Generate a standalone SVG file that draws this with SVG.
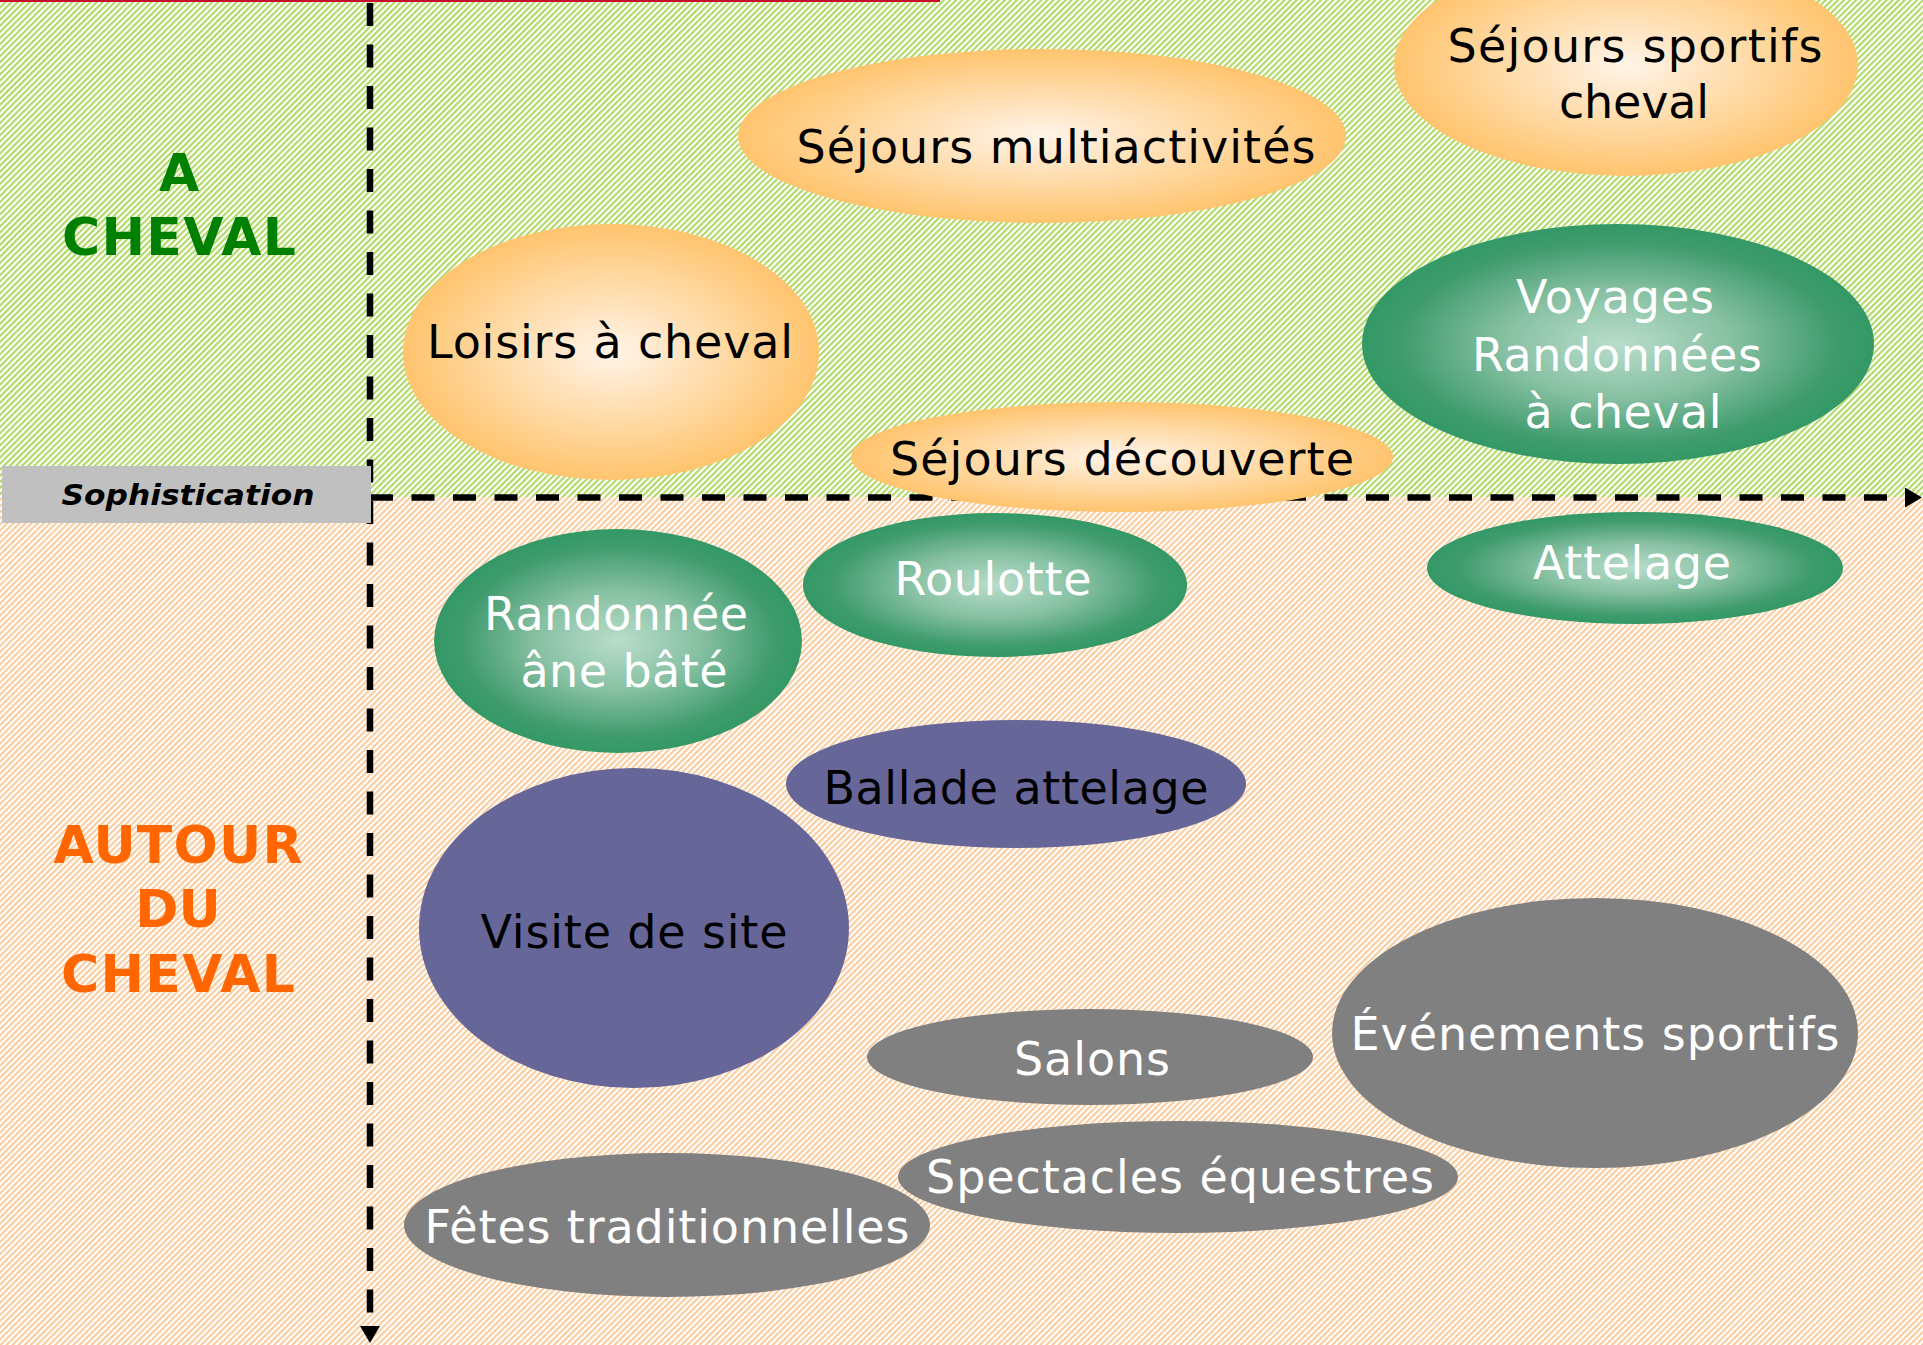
<svg xmlns="http://www.w3.org/2000/svg" width="1923" height="1345" viewBox="0 0 1923 1345">
<defs>
<pattern id="hatchG" width="4.3" height="4.3" patternUnits="userSpaceOnUse" patternTransform="rotate(45)">
<rect width="4.3" height="4.3" fill="#ffffff"/>
<rect width="2.1" height="4.3" fill="#afd964"/>
</pattern>
<pattern id="hatchO" width="4.3" height="4.3" patternUnits="userSpaceOnUse" patternTransform="rotate(45)">
<rect width="4.3" height="4.3" fill="#ffffff"/>
<rect width="2.1" height="4.3" fill="#fbcb9c"/>
</pattern>
<radialGradient id="gOr" cx="50%" cy="50%" r="50%">
<stop offset="0" stop-color="#fff4e9"/>
<stop offset="0.5" stop-color="#ffdcab"/>
<stop offset="1" stop-color="#ffc46e"/>
</radialGradient>
<radialGradient id="gGr" cx="50%" cy="50%" r="50%">
<stop offset="0" stop-color="#b9ddcb"/>
<stop offset="0.45" stop-color="#86c0a2"/>
<stop offset="0.85" stop-color="#3f9b6d"/>
<stop offset="1" stop-color="#339966"/>
</radialGradient>
<marker id="arr" markerWidth="18" markerHeight="20" refX="0" refY="10" orient="auto" markerUnits="userSpaceOnUse">
<path d="M0,0 L17,10 L0,20 z" fill="#000"/>
</marker>
<style>
.t{font-family:"DejaVu Sans","Liberation Sans",Verdana,sans-serif;font-size:46px;text-anchor:middle;}
.dk{fill:#000;}
.wh{fill:#fff;}
.ax{stroke:#000;stroke-width:6.5;stroke-dasharray:23 18.5;fill:none;}
.or{fill:url(#gOr);}
.gr{fill:url(#gGr);}
.pu{fill:#666699;}
.gy{fill:#808080;}
.big{font-family:"DejaVu Sans","Liberation Sans",Verdana,sans-serif;font-size:52px;font-weight:bold;text-anchor:middle;}
</style>
</defs>

<g id="background">
<rect x="0" y="0" width="1923" height="497" fill="url(#hatchG)"/>
<rect x="0" y="497" width="1923" height="848" fill="url(#hatchO)"/>
<rect x="0" y="0" width="940" height="2" fill="#c8102e"/>
</g>

<g id="labels">
<text class="big" x="179" y="191" fill="#008000">A</text>
<text class="big" x="179" y="255" fill="#008000" textLength="234">CHEVAL</text>
<text class="big" x="178" y="863" fill="#ff6600" textLength="249">AUTOUR</text>
<text class="big" x="178" y="927" fill="#ff6600">DU</text>
<text class="big" x="178" y="992" fill="#ff6600" textLength="234">CHEVAL</text>
</g>

<g id="connectors">
<line class="ax" x1="370" y1="3" x2="370" y2="1326" marker-end="url(#arr)"/>
<line class="ax" x1="370" y1="497.5" x2="1905" y2="497.5" marker-end="url(#arr)"/>
</g>

<g id="axis-label">
<rect x="2" y="466" width="369" height="57" fill="#c0c0c0"/>
<text x="188" y="505" font-family="'DejaVu Sans','Liberation Sans',Verdana,sans-serif" font-size="29" font-weight="bold" font-style="italic" text-anchor="middle" textLength="253" lengthAdjust="spacingAndGlyphs">Sophistication</text>
</g>

<g id="sejours-multiactivites">
<ellipse class="or" cx="1042" cy="136" rx="304" ry="87"/>
<text class="t dk" x="1056" y="163" textLength="519">Séjours multiactivités</text>
</g>
<g id="sejours-sportifs">
<ellipse class="or" cx="1626" cy="65" rx="232" ry="111"/>
<text class="t dk" x="1635" y="62" textLength="375">Séjours sportifs</text>
<text class="t dk" x="1634" y="118" textLength="150">cheval</text>
</g>
<g id="loisirs">
<ellipse class="or" cx="611" cy="352" rx="208" ry="128"/>
<text class="t dk" x="610" y="358" textLength="366">Loisirs à cheval</text>
</g>
<g id="voyages">
<ellipse class="gr" cx="1618" cy="344" rx="256" ry="120"/>
<text class="t wh" x="1615" y="313" textLength="198">Voyages</text>
<text class="t wh" x="1617" y="371" textLength="290">Randonnées</text>
<text class="t wh" x="1623" y="428" textLength="197">à cheval</text>
</g>
<g id="sejours-decouverte">
<ellipse class="or" cx="1122" cy="457" rx="271" ry="55"/>
<text class="t dk" x="1122" y="475" textLength="464">Séjours découverte</text>
</g>
<g id="randonnee-ane">
<ellipse class="gr" cx="618" cy="641" rx="184" ry="112"/>
<text class="t wh" x="616" y="630" textLength="264">Randonnée</text>
<text class="t wh" x="624" y="687" textLength="207">âne bâté</text>
</g>
<g id="roulotte">
<ellipse class="gr" cx="995" cy="585" rx="192" ry="72"/>
<text class="t wh" x="993" y="595" textLength="197">Roulotte</text>
</g>
<g id="attelage">
<ellipse class="gr" cx="1635" cy="568" rx="208" ry="56"/>
<text class="t wh" x="1632" y="579" textLength="198">Attelage</text>
</g>
<g id="ballade-attelage">
<ellipse class="pu" cx="1016" cy="784" rx="230" ry="64"/>
<text class="t dk" x="1016" y="804" textLength="385">Ballade attelage</text>
</g>
<g id="visite-de-site">
<ellipse class="pu" cx="634" cy="928" rx="215" ry="160"/>
<text class="t dk" x="634" y="948" textLength="307">Visite de site</text>
</g>
<g id="salons">
<ellipse class="gy" cx="1090" cy="1057" rx="223" ry="48"/>
<text class="t wh" x="1092" y="1075" textLength="156">Salons</text>
</g>
<g id="evenements-sportifs">
<ellipse class="gy" cx="1595" cy="1033" rx="263" ry="135"/>
<text class="t wh" x="1595" y="1050" textLength="489">Événements sportifs</text>
</g>
<g id="fetes-traditionnelles">
<ellipse class="gy" cx="667" cy="1225" rx="263" ry="72"/>
<text class="t wh" x="667" y="1243" textLength="485">Fêtes traditionnelles</text>
</g>
<g id="spectacles-equestres">
<ellipse class="gy" cx="1178" cy="1177" rx="280" ry="56"/>
<text class="t wh" x="1180" y="1193" textLength="508">Spectacles équestres</text>
</g>
</svg>
